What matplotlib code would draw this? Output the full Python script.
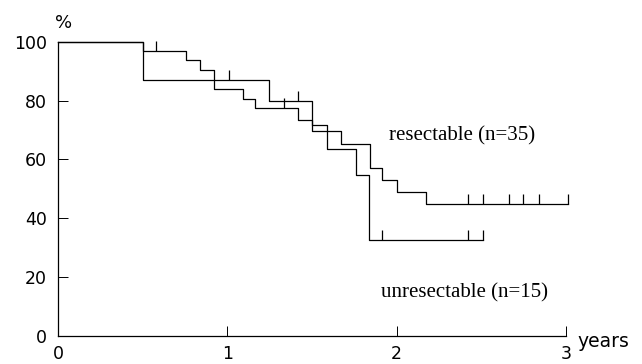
import matplotlib
matplotlib.use("Agg")
import matplotlib.pyplot as plt
import numpy as np

# Kaplan-Meier steps (years, % surviving)
res_t = [0, 0.5, 0.754, 0.839, 0.921, 1.09, 1.164, 1.42, 1.502, 1.672, 1.843, 1.912, 2.0, 2.172, 3.01]
res_s = [100, 97.0, 93.8, 90.5, 83.9, 80.6, 77.4, 73.5, 69.5, 65.3, 57.0, 53.1, 48.9, 44.9, 44.9]
res_cens = [0.58, 1.335, 2.424, 2.508, 2.664, 2.749, 2.838, 3.01]

unres_t = [0, 0.5, 1.248, 1.502, 1.587, 1.76, 1.839, 2.508]
unres_s = [100, 87.0, 79.9, 71.8, 63.6, 54.8, 32.7, 32.7]
unres_cens = [1.008, 1.42, 1.912, 2.424, 2.508]

x_ticks = [0, 1, 2, 3]
y_ticks = [0, 20, 40, 60, 80, 100]


def surv_at(t, times, surv):
    idx = np.searchsorted(times, t, side='right') - 1
    return np.asarray(surv)[idx]


fig = plt.figure(figsize=(6.42, 3.64), dpi=100)
ax = fig.add_axes([58 / 642, 28 / 364, 508 / 642, 294.3 / 364])

for times, surv, cens in [(res_t, res_s, res_cens), (unres_t, unres_s, unres_cens)]:
    ax.step(times, surv, where='post', color='black', lw=0.9, clip_on=False)
    cy = surv_at(cens, times, surv)
    ax.vlines(cens, cy, cy + 3.4, color='black', lw=0.9, clip_on=False)

ax.set_xlim(0, 3)
ax.set_ylim(0, 100)
ax.set_xticks(x_ticks)
ax.set_yticks(y_ticks)
ax.tick_params(direction='in', length=7.2, width=0.7, pad=8, labelsize=12.5)
ax.tick_params(axis='x', labelsize=12.5, pad=6.5)
for s in ['top', 'right']:
    ax.spines[s].set_visible(False)
for s in ['left', 'bottom']:
    ax.spines[s].set_linewidth(0.9)

ax.text(0.03, 106.5, '%', fontsize=13, ha='center', va='center', clip_on=False)
ax.text(3.066, -3.6, 'years', fontsize=13.5, ha='left', va='baseline', clip_on=False)

ax.text(2.386, 68.0, 'resectable (n=35)', family='Liberation Serif', fontsize=15,
        ha='center', va='center')
ax.text(2.402, 14.6, 'unresectable (n=15)', family='Liberation Serif', fontsize=15,
        ha='center', va='center')

fig.savefig('out.png', dpi=100)
